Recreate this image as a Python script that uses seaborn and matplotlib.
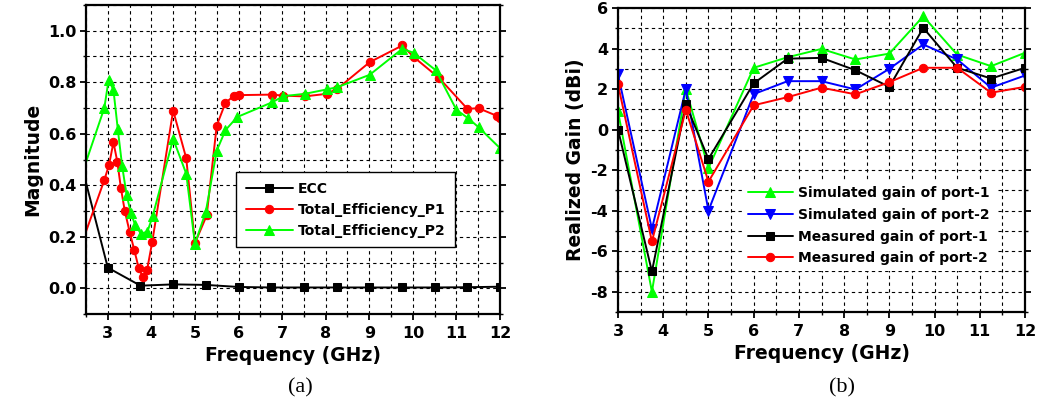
import numpy as np
import pandas as pd
import matplotlib
matplotlib.use("Agg")
import matplotlib.pyplot as plt
from matplotlib.ticker import MultipleLocator, FormatStrFormatter
import seaborn as sns

# ---------------- Data: panel (a) ----------------
ecc_f = [2.5, 3.0, 3.75, 4.5, 5.25, 6.0, 6.75, 7.5, 8.25, 9.0, 9.75, 10.5, 11.25, 12.0]
ecc_v = [0.41, 0.08, 0.01, 0.015, 0.013, 0.005, 0.003, 0.003, 0.003, 0.003, 0.003, 0.003, 0.004, 0.006]

p1_f = [2.5, 2.92, 3.03, 3.13, 3.22, 3.3, 3.39, 3.5, 3.61, 3.71, 3.8, 3.9, 4.02,
        4.5, 4.8, 5.0, 5.27, 5.5, 5.7, 5.9, 6.0, 6.77, 7.03, 7.52, 8.02, 8.27,
        9.01, 9.76, 10.02, 10.6, 11.25, 11.51, 11.92, 12.0]
p1_v = [0.22, 0.42, 0.48, 0.567, 0.49, 0.39, 0.30, 0.22, 0.147, 0.078, 0.045, 0.07, 0.18,
        0.69, 0.505, 0.175, 0.283, 0.632, 0.72, 0.748, 0.75, 0.752, 0.748, 0.745, 0.755, 0.775,
        0.878, 0.943, 0.898, 0.817, 0.697, 0.699, 0.67, 0.66]

p2_f = [2.5, 2.92, 3.02, 3.13, 3.23, 3.33, 3.43, 3.53, 3.63, 3.76, 3.91, 4.03,
        4.5, 4.8, 5.0, 5.25, 5.5, 5.7, 5.97, 6.77, 7.03, 7.52, 8.02, 8.27,
        9.01, 9.76, 10.02, 10.53, 11.0, 11.27, 11.51, 12.0]
p2_v = [0.49, 0.70, 0.81, 0.77, 0.617, 0.474, 0.364, 0.292, 0.245, 0.212, 0.22, 0.28,
        0.58, 0.445, 0.172, 0.298, 0.534, 0.614, 0.665, 0.722, 0.746, 0.755, 0.772, 0.781,
        0.829, 0.93, 0.914, 0.846, 0.693, 0.66, 0.625, 0.544]

# ---------------- Data: panel (b) ----------------
gain_f = [3.0, 3.75, 4.5, 5.0, 6.0, 6.75, 7.5, 8.25, 9.0, 9.75, 10.5, 11.25, 12.0]
sim_p1 = [0.9, -8.0, 2.0, -1.9, 3.05, 3.57, 3.98, 3.46, 3.75, 5.59, 3.70, 3.13, 3.79]
sim_p2 = [2.72, -4.9, 2.0, -4.0, 1.75, 2.39, 2.39, 1.98, 3.0, 4.2, 3.46, 2.07, 2.67]
meas_p1 = [0.0, -7.0, 1.25, -1.45, 2.28, 3.5, 3.54, 2.93, 2.11, 5.02, 3.05, 2.52, 3.05]
meas_p2 = [2.23, -5.52, 0.98, -2.57, 1.2, 1.6, 2.07, 1.74, 2.34, 3.05, 3.05, 1.82, 2.11]

labels_a = ["ECC", "Total_Efficiency_P1", "Total_Efficiency_P2"]
labels_b = ["Simulated gain of port-1", "Simulated gain of port-2",
            "Measured gain of port-1", "Measured gain of port-2"]

sns.set_theme(style="white")
plt.rcParams["font.family"] = ["DejaVu Sans"]
plt.rcParams["font.weight"] = "bold"
plt.rcParams["axes.unicode_minus"] = False
for k in ["text.color", "axes.labelcolor", "xtick.color", "ytick.color", "axes.edgecolor"]:
    plt.rcParams[k] = "black"

W, H = 1040, 411
fig = plt.figure(figsize=(W / 100, H / 100), dpi=100)

def px_axes(l, r, t, b):
    return fig.add_axes([l / W, 1 - b / H, (r - l) / W, (b - t) / H])

ax1 = px_axes(86, 500, 5, 314)
ax2 = px_axes(618, 1025, 8, 312)

GREEN, RED, BLUE, BLACK = "#00FF00", "#FF0000", "#0000FF", "#000000"

# panel (a)
sns.lineplot(x=ecc_f, y=ecc_v, ax=ax1, color=BLACK, marker="s", markersize=5.5,
             markeredgecolor=BLACK, lw=1.4, markevery=list(range(1, len(ecc_f))),
             label=labels_a[0])
sns.lineplot(x=p1_f, y=p1_v, ax=ax1, color=RED, marker="o", markersize=6,
             markeredgecolor=RED, lw=1.4, markevery=list(range(1, len(p1_f))),
             label=labels_a[1])
sns.lineplot(x=p2_f, y=p2_v, ax=ax1, color=GREEN, marker="^", markersize=7,
             markeredgecolor=GREEN, lw=1.4, markevery=list(range(1, len(p2_f))),
             label=labels_a[2])

# panel (b)
sns.lineplot(x=gain_f, y=sim_p1, ax=ax2, color=GREEN, marker="^", markersize=7,
             markeredgecolor=GREEN, lw=1.4, label=labels_b[0])
sns.lineplot(x=gain_f, y=sim_p2, ax=ax2, color=BLUE, marker="v", markersize=7,
             markeredgecolor=BLUE, lw=1.4, label=labels_b[1])
sns.lineplot(x=gain_f, y=meas_p1, ax=ax2, color=BLACK, marker="s", markersize=5.5,
             markeredgecolor=BLACK, lw=1.4, label=labels_b[2])
sns.lineplot(x=gain_f, y=meas_p2, ax=ax2, color=RED, marker="o", markersize=6,
             markeredgecolor=RED, lw=1.4, label=labels_b[3])

def style(ax, xlim, ylim, ymaj, ymin, yfmt):
    ax.set_xlim(*xlim)
    ax.set_ylim(*ylim)
    ax.xaxis.set_major_locator(MultipleLocator(1))
    ax.xaxis.set_minor_locator(MultipleLocator(0.5))
    ax.yaxis.set_major_locator(MultipleLocator(ymaj))
    ax.yaxis.set_minor_locator(MultipleLocator(ymin))
    ax.yaxis.set_major_formatter(FormatStrFormatter(yfmt))
    ax.grid(True, which="both", color="black", lw=0.8, ls=(0, (3, 3)))
    ax.set_axisbelow(True)
    for s in ax.spines.values():
        s.set_visible(True)
        s.set_color("black")
        s.set_linewidth(1.6)
    ax.tick_params(which="major", direction="out", length=4, width=1.3,
                   labelsize=11.5, pad=3, color="black", labelcolor="black",
                   left=True, bottom=True, right=True, top=False)
    ax.tick_params(which="minor", direction="out", length=2.5, width=1.0,
                   color="black", left=True, bottom=True, right=True, top=False)
    ax.tick_params(axis="x", which="major", pad=5)
    for t in ax.get_xticklabels() + ax.get_yticklabels():
        t.set_fontweight("bold")
    ax.set_xlabel("Frequency (GHz)", fontsize=13.5, fontweight="bold", labelpad=3,
                  color="black")

style(ax1, (2.5, 12), (-0.1, 1.1), 0.2, 0.1, "%.1f")
ax1.set_xticks(np.arange(3, 13, 1))
style(ax2, (3, 12), (-9, 6), 2, 1, "%d")
ax1.set_ylabel("Magnitude", fontsize=13.5, fontweight="bold", labelpad=4, color="black")
ax2.set_ylabel("Realized Gain (dBi)", fontsize=13.5, fontweight="bold", labelpad=4,
               color="black")

leg1 = ax1.legend(loc="upper left", bbox_to_anchor=((236 - 86) / 414, (314 - 172) / 309),
                  borderaxespad=0, frameon=True, fancybox=False, framealpha=1,
                  edgecolor="black", facecolor="white", prop={"weight": "bold", "size": 10},
                  handlelength=3.4, handletextpad=0.35, labelspacing=0.5, borderpad=0.7,
                  labelcolor="black")
leg1.get_frame().set_linewidth(1.0)

leg2 = ax2.legend(loc="upper left", bbox_to_anchor=((742 - 618) / 407, (312 - 180) / 304),
                  borderaxespad=0, borderpad=0.45, frameon=True, fancybox=False,
                  framealpha=1, facecolor="white", edgecolor="none",
                  prop={"weight": "bold", "size": 10}, labelcolor="black",
                  handlelength=3.2, handletextpad=0.4, labelspacing=0.55)
leg2.get_frame().set_linewidth(0)

fig.text(300 / W, 1 - 388 / H, "(a)", ha="center", va="center",
         family=["Liberation Serif"], fontsize=16, fontweight="normal", color="black")
fig.text(842 / W, 1 - 388 / H, "(b)", ha="center", va="center",
         family=["Liberation Serif"], fontsize=16, fontweight="normal", color="black")

fig.savefig("out.png", dpi=100)
